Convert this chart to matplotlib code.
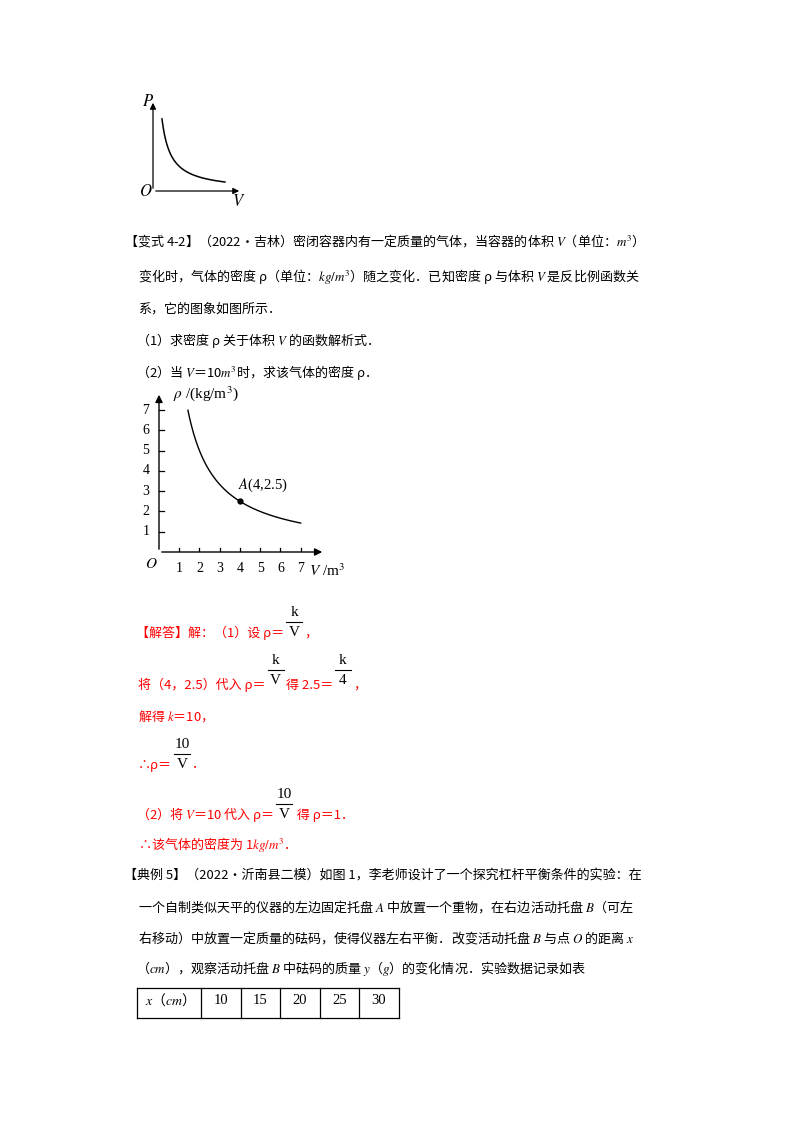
import numpy as np
import matplotlib
matplotlib.use("Agg")
import matplotlib.pyplot as plt
from matplotlib.lines import Line2D

plt.rcParams['font.family'] = ['Noto Sans CJK SC', 'DejaVu Sans']
plt.rcParams['mathtext.fontset'] = 'stix'

W, H = 800, 1132
RED = '#ff0000'
FS = 9.4

# data
p_v = np.linspace(1.0, 8.0, 100)          # top sketch: P = 8/V
p_vals = 8.0 / p_v
rho_k = 10.0
rho_v = np.linspace(10 / 7, 7, 200)       # rho = 10/V
rho_vals = rho_k / rho_v
point_a = (4, 2.5)
x_ticks = [1, 2, 3, 4, 5, 6, 7]
y_ticks = [1, 2, 3, 4, 5, 6, 7]
table_x = [10, 15, 20, 25, 30]

fig = plt.figure(figsize=(W / 100, H / 100), dpi=100)
rend = fig.canvas.get_renderer()


def t(x, y, s, color='black', size=FS, ha='left', **kw):
    return fig.text(x / W, 1 - y / H, s, color=color, fontsize=size, ha=ha, va='center', **kw)


def hline(x0, x1, y, color='black', lw=0.9):
    fig.add_artist(Line2D([x0 / W, x1 / W], [1 - y / H, 1 - y / H], color=color, lw=lw))


def vline(x, y0, y1, color='black', lw=0.9):
    fig.add_artist(Line2D([x / W, x / W], [1 - y0 / H, 1 - y1 / H], color=color, lw=lw))


def frac(xc, yn, yb, yd, num, den):
    t(xc, yn, num, ha='center', family='Liberation Serif', size=11)
    hline(xc - 8, xc + 8, yb, lw=0.8)
    t(xc, yd, den, ha='center', family='Liberation Serif', size=11)


def flow(x, y, parts):
    # parts: strings (red text) or (num, den, dy) fractions
    for p in parts:
        if isinstance(p, str):
            txt = t(x, y, p, color=RED)
            x += txt.get_window_extent(rend).width
        else:
            num, den, dy = p
            xc = x + 10
            frac(xc, y + dy - 20, y + dy - 11, y + dy - 1, num, den)
            x += 20


def axes_px(left, bottom, w, h):
    ax = fig.add_axes([left / W, 1 - bottom / H, w / W, h / H])
    for s in ax.spines.values():
        s.set_visible(False)
    ax.set_xticks([])
    ax.set_yticks([])
    ax.patch.set_alpha(0)
    return ax


# top sketch P-V
ax0 = axes_px(153, 191, 89, 91)
ax0.set_xlim(0, 9.9)
ax0.set_ylim(0, 10.1)
ax0.plot(p_v, p_vals, color='black', lw=1.1)
ax0.annotate('', xy=(9.9, 0), xytext=(0, 0), arrowprops=dict(arrowstyle='-|>', color='black', lw=0.9, mutation_scale=9))
ax0.annotate('', xy=(0, 10.1), xytext=(0, 0), arrowprops=dict(arrowstyle='-|>', color='black', lw=0.9, mutation_scale=9))
t(142, 102, '$P$', size=12)
t(139, 191, '$O$', size=12)
t(232, 201, '$V$', size=12)

# problem text
t(124, 241, '【变式 4-2】（2022•吉林）密闭容器内有一定质量的气体，当容器的体积 $V$（单位：$m^3$）')
t(138, 276, '变化时，气体的密度 ρ（单位：$kg/m^3$）随之变化．已知密度 ρ 与体积 $V$ 是反比例函数关')
t(138, 309, '系，它的图象如图所示．')
t(136, 340, '（1）求密度 ρ 关于体积 $V$ 的函数解析式．')
t(136, 372, '（2）当 $V$＝10$m^3$时，求该气体的密度 ρ．')

# main graph
ax = axes_px(159, 552, 166, 160)
ax.set_xlim(0, 8.2)
ax.set_ylim(0, 7.9)
ax.plot(rho_v, rho_vals, color='black', lw=1.0)
ax.plot(*point_a, 'o', color='black', ms=3.5)
ax.annotate('', xy=(8.2, 0), xytext=(0, 0), arrowprops=dict(arrowstyle='-|>', color='black', lw=1.0, mutation_scale=11))
ax.annotate('', xy=(0, 7.9), xytext=(0, 0), arrowprops=dict(arrowstyle='-|>', color='black', lw=1.0, mutation_scale=11))
for xv in x_ticks:
    ax.plot([xv, xv], [0, 0.2], color='black', lw=0.9)
    ax.text(xv, -0.8, str(xv), ha='center', va='center', family='Liberation Serif', fontsize=10)
for yv in y_ticks:
    ax.plot([0, 0.25], [yv, yv], color='black', lw=0.9)
    ax.text(-0.65, yv, str(yv), ha='center', va='center', family='Liberation Serif', fontsize=10)
ax.text(point_a[0] - 0.1, point_a[1] + 0.6, '$A$(4,2.5)', family='Liberation Serif', fontsize=10.5)
t(145, 563, '$O$', size=11)
t(173, 394, '$\\rho$ /(kg/m$^3$)', family='Liberation Serif', size=11)
t(309, 571, '$V$ /m$^3$', family='Liberation Serif', size=11)

# solution (red)
flow(136, 633, ['【解答】解：（1）设 ρ＝', ('k', 'V', 0), '，'])
flow(138, 685, ['将（4，2.5）代入 ρ＝', ('k', 'V', -4), '得 2.5＝', ('k', '4', -4), '，'])
flow(138, 716, ['解得 $k$＝10，'])
flow(138, 765, ['∴ρ＝', ('10', 'V', 0), '．'])
flow(136, 815, ['（2）将 $V$＝10 代入 ρ＝', ('10', 'V', 0), ' 得 ρ＝1．'])
flow(138, 845, ['∴该气体的密度为 1$kg/m^3$．'])

# next problem
t(124, 875, '【典例 5】（2022•沂南县二模）如图 1，李老师设计了一个探究杠杆平衡条件的实验：在')
t(138, 907, '一个自制类似天平的仪器的左边固定托盘 $A$ 中放置一个重物，在右边活动托盘 $B$（可左')
t(138, 938, '右移动）中放置一定质量的砝码，使得仪器左右平衡．改变活动托盘 $B$ 与点 $O$ 的距离 $x$')
t(136, 968, '（$cm$），观察活动托盘 $B$ 中砝码的质量 $y$（$g$）的变化情况．实验数据记录如表')

# table
cols = [137, 201, 241, 280, 320, 359, 399]
top, bot = 988, 1018
hline(cols[0], cols[-1], top)
hline(cols[0], cols[-1], bot)
for c in cols:
    vline(c, top, bot)
t(145, 1000, '$x$（$cm$）', size=10)
for i, val in enumerate(table_x):
    t((cols[i + 1] + cols[i + 2]) / 2, 1000, str(val), ha='center', family='Liberation Serif', size=10.5)

fig.savefig('out.png', dpi=100)
